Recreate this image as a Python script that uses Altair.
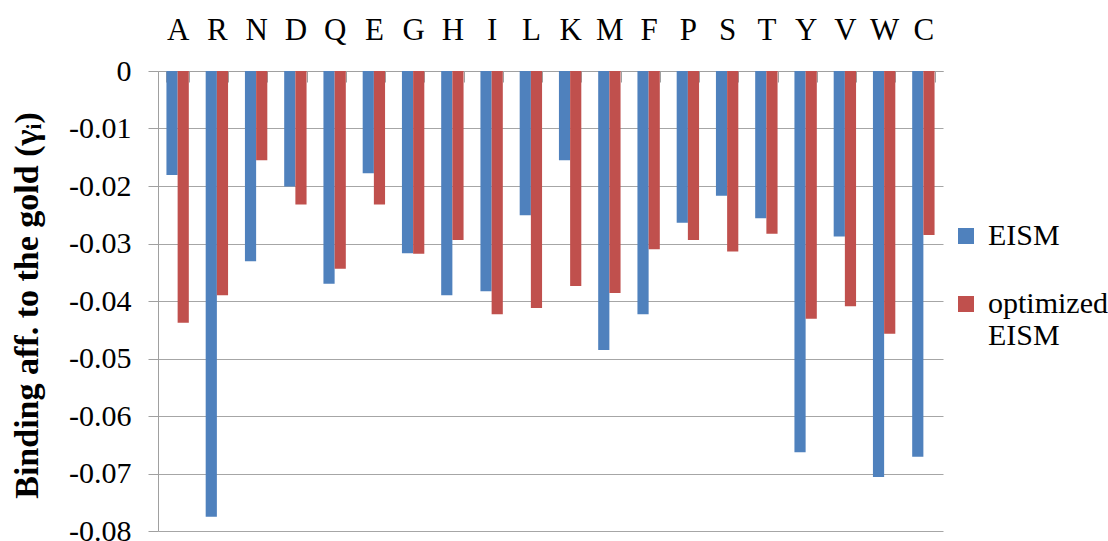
import altair as alt
import pandas as pd

residues = list("ARNDQEGHILKMFPSTYVWC")
methods = ["EISM", "optimized EISM"]
eism = [-0.0181, -0.0775, -0.0331, -0.0201, -0.0370, -0.0178, -0.0317, -0.0390,
        -0.0383, -0.0251, -0.0155, -0.0485, -0.0423, -0.0264, -0.0217, -0.0256,
        -0.0663, -0.0288, -0.0706, -0.0671]
optimized = [-0.0438, -0.0390, -0.0155, -0.0232, -0.0344, -0.0232, -0.0318, -0.0294,
             -0.0423, -0.0412, -0.0374, -0.0386, -0.0310, -0.0294, -0.0314, -0.0283,
             -0.0431, -0.0409, -0.0457, -0.0285]
y_ticks = [0, -0.01, -0.02, -0.03, -0.04, -0.05, -0.06, -0.07, -0.08]
colors = ["#4F81BD", "#C0504D"]

rows = []
for r, a, b in zip(residues, eism, optimized):
    rows.append({"Residue": r, "Method": methods[0], "Value": a})
    rows.append({"Residue": r, "Method": methods[1], "Value": b})
df = pd.DataFrame(rows)

serif = "Liberation Serif"
grey = "#A0A0A0"

chart = alt.Chart(df).mark_bar().encode(
    x=alt.X(
        "Residue:N", sort=residues,
        scale=alt.Scale(paddingInner=0.43, paddingOuter=0.215),
        axis=alt.Axis(
            orient="bottom", offset=-460, title=None, labelAngle=0,
            tickBand="extent", tickSize=11, tickColor=grey, domainColor=grey,
            labelPadding=-43, labelBaseline="alphabetic", labelFont=serif,
            labelFontSize=31, labelColor="black", grid=False,
        ),
    ),
    xOffset=alt.XOffset("Method:N", sort=methods),
    y=alt.Y(
        "Value:Q",
        scale=alt.Scale(domain=[-0.08, 0], nice=False, zero=True),
        axis=alt.Axis(
            values=y_ticks,
            labelExpr="datum.value == 0 ? '0' : replace(format(datum.value, '.2f'), '\u2212', '-')",
            labelFont=serif, labelFontSize=30, labelColor="black", labelPadding=17,
            tickSize=10, tickColor=grey, domainColor=grey, gridColor="#A6A6A6",
            title="Binding aff. to the gold (γᵢ)", titleFont=serif, titleFontSize=34,
            titleFontWeight="bold", titleColor="black", titleAngle=270,
            titleX=-131, titleY=234, titleAlign="center", titleBaseline="middle",
        ),
    ),
    color=alt.Color(
        "Method:N", sort=methods,
        scale=alt.Scale(domain=methods, range=colors),
        legend=alt.Legend(
            orient="none", legendX=793, legendY=150, title=None,
            symbolType="square", symbolSize=256, symbolStrokeWidth=0,
            labelFont=serif, labelFontSize=30, labelColor="black", labelLimit=400,
            labelExpr="datum.label == 'optimized EISM' ? ['optimized', 'EISM'] : datum.label",
            rowPadding=38, labelOffset=7,
        ),
    ),
).properties(
    width=785, height=460,
    autosize=alt.AutoSizeParams(type="none"),
    padding={"left": 158, "top": 71, "right": 165, "bottom": 10},
    background="white",
).configure_view(
    stroke=None
).configure_axis(
    labelFont=serif, titleFont=serif
).configure_legend(
    labelFont=serif
)

chart.save("out.html", embed_options={"renderer": "svg", "actions": False})
